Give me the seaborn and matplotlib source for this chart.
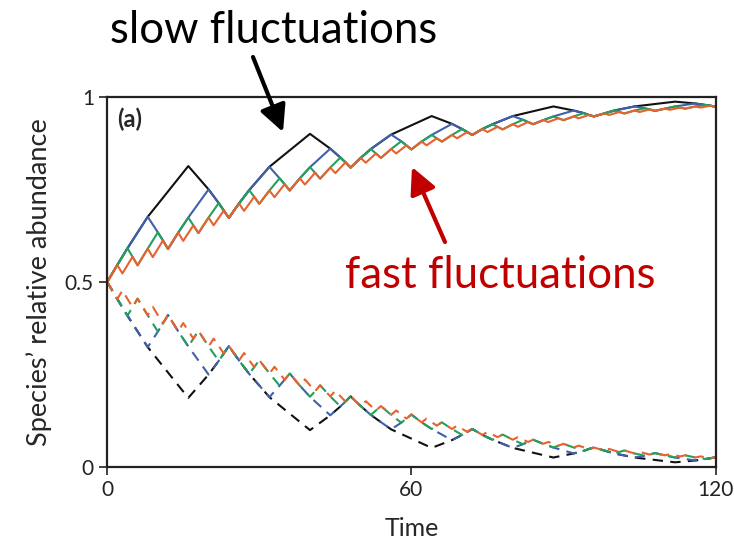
import matplotlib
matplotlib.use("Agg")
import matplotlib.pyplot as plt
import seaborn as sns

# environment switches: each line is favoured for 2/3 of its period, then disfavoured for 1/3
def switch_times(period, t_end=120):
    t = [0]
    for start in range(0, t_end, period):
        t += [start + period * 2 // 3, start + period]
    return t

periods = {"black": 24, "blue": 12, "green": 6, "orange": 3}

# species 1 (solid), values at each line's own switching times
black_up = [0.500, 0.813, 0.673, 0.900, 0.809, 0.948, 0.897, 0.974, 0.947, 0.987, 0.973]
blue_up = [0.500, 0.676, 0.589, 0.750, 0.673, 0.811, 0.747, 0.860, 0.809, 0.898,
           0.858, 0.927, 0.897, 0.948, 0.926, 0.963, 0.947, 0.974, 0.962, 0.982, 0.973]
green_up = [0.500, 0.591, 0.545, 0.634, 0.589, 0.674, 0.632, 0.713, 0.673, 0.748,
            0.711, 0.780, 0.747, 0.810, 0.779, 0.836, 0.809, 0.859, 0.835, 0.880,
            0.858, 0.897, 0.879, 0.913, 0.897, 0.926, 0.912, 0.938, 0.926, 0.947,
            0.937, 0.956, 0.947, 0.963, 0.955, 0.969, 0.962, 0.974, 0.968, 0.978, 0.973]
orange_up = [0.500, 0.546, 0.523, 0.568, 0.545, 0.590, 0.567, 0.612, 0.589, 0.633,
             0.611, 0.653, 0.632, 0.674, 0.653, 0.693, 0.673, 0.712, 0.692, 0.730,
             0.711, 0.747, 0.729, 0.764, 0.747, 0.780, 0.763, 0.795, 0.779, 0.809,
             0.794, 0.823, 0.809, 0.835, 0.822, 0.847, 0.835, 0.859, 0.847, 0.869,
             0.858, 0.879, 0.869, 0.888, 0.879, 0.897, 0.888, 0.905, 0.897, 0.913,
             0.905, 0.919, 0.912, 0.926, 0.919, 0.932, 0.926, 0.937, 0.932, 0.942,
             0.937, 0.947, 0.942, 0.951, 0.947, 0.955, 0.951, 0.959, 0.955, 0.963,
             0.959, 0.966, 0.962, 0.968, 0.965, 0.971, 0.968, 0.974, 0.971, 0.976, 0.973]

# species 2 (dashed)
black_down = [0.500, 0.187, 0.327, 0.100, 0.191, 0.052, 0.103, 0.026, 0.053, 0.013, 0.027]
blue_down = [0.500, 0.324, 0.411, 0.250, 0.327, 0.189, 0.253, 0.140, 0.191, 0.102,
             0.142, 0.073, 0.103, 0.052, 0.074, 0.037, 0.053, 0.026, 0.038, 0.018, 0.027]
green_down = [0.500, 0.409, 0.455, 0.366, 0.411, 0.326, 0.368, 0.287, 0.327, 0.252,
              0.289, 0.220, 0.253, 0.190, 0.221, 0.164, 0.191, 0.141, 0.165, 0.120,
              0.142, 0.103, 0.121, 0.087, 0.103, 0.074, 0.088, 0.062, 0.074, 0.053,
              0.063, 0.044, 0.053, 0.037, 0.045, 0.031, 0.038, 0.026, 0.032, 0.022, 0.027]
orange_down = [0.500, 0.454, 0.477, 0.432, 0.455, 0.410, 0.433, 0.388, 0.411, 0.367,
               0.389, 0.347, 0.368, 0.326, 0.347, 0.307, 0.327, 0.288, 0.308, 0.270,
               0.289, 0.253, 0.271, 0.236, 0.253, 0.220, 0.237, 0.205, 0.221, 0.191,
               0.206, 0.177, 0.191, 0.165, 0.178, 0.153, 0.165, 0.141, 0.153, 0.131,
               0.142, 0.121, 0.131, 0.112, 0.121, 0.103, 0.112, 0.095, 0.103, 0.087,
               0.095, 0.081, 0.088, 0.074, 0.081, 0.068, 0.074, 0.063, 0.068, 0.058,
               0.063, 0.053, 0.058, 0.049, 0.053, 0.045, 0.049, 0.041, 0.045, 0.037,
               0.041, 0.034, 0.038, 0.032, 0.035, 0.029, 0.032, 0.026, 0.029, 0.024, 0.027]

colors = {"black": "#111111", "blue": "#3f60ab", "green": "#21a159", "orange": "#e8612f"}
order = ["black", "blue", "green", "orange"]
up = {"black": black_up, "blue": blue_up, "green": green_up, "orange": orange_up}
down = {"black": black_down, "blue": blue_down, "green": green_down, "orange": orange_down}


def path(name, values):
    # a slower line shares its stretches with the faster ones: add the faster lines'
    # peaks where they leave it (rising) and join it again (falling)
    P = periods[name]
    pts = dict(zip(switch_times(P), values[name]))
    for other in order:
        p = periods[other]
        if p >= P:
            continue
        lookup = dict(zip(switch_times(p), values[other]))
        for s in range(0, 120, P):
            for a in (s + 2 * p // 3, s + P - p // 3):
                pts[a] = lookup[a]
    t = sorted(pts)
    return t, [pts[a] for a in t]


sns.set_style("ticks")
plt.rcParams["font.family"] = ["Lato", "DejaVu Sans"]

fig = plt.figure(figsize=(7.34, 5.47), dpi=100)
ax = fig.add_axes([0.146, 0.146, 0.829, 0.677])

for name in order:
    t, y = path(name, up)
    sns.lineplot(x=t, y=y, color=colors[name], lw=1.5, ax=ax)
    t, y = path(name, down)
    sns.lineplot(x=t, y=y, color=colors[name], lw=1.5, ax=ax,
                 linestyle=(0, (5, 3.5)))

ax.set_xlim(0, 120)
ax.set_ylim(0, 1)
ax.set_xticks([0, 60, 120])
ax.set_xticklabels(["0", "60", "120"])
ax.set_yticks([0, 0.5, 1])
ax.set_yticklabels(["0", "0.5", "1"])
ax.tick_params(direction="out", length=6, width=1.2, labelsize=15, colors="#222222")
for s in ax.spines.values():
    s.set_linewidth(1.6)
    s.set_color("#222222")

ax.set_xlabel("Time", fontsize=18, labelpad=12)
ax.set_ylabel("Species\u2019 relative abundance", fontsize=19.5, labelpad=9)
ax.text(0.016, 0.972, "(a)", transform=ax.transAxes, fontsize=17,
        fontweight="bold", va="top", ha="left")


def px(x, y):
    return (x / 734, 1 - y / 547)


fig.text(*px(110, 43), "slow fluctuations", fontsize=31.5, color="black",
         ha="left", va="baseline")
fig.text(*px(345, 288), "fast fluctuations", fontsize=31.5, color="#c00000",
         ha="left", va="baseline")

ax.annotate("", xy=px(283, 132), xycoords="figure fraction",
            xytext=px(253, 57), textcoords="figure fraction",
            arrowprops=dict(arrowstyle="-|>", lw=3, color="black",
                            mutation_scale=40, shrinkA=0, shrinkB=0))
ax.annotate("", xy=px(412, 167), xycoords="figure fraction",
            xytext=px(445, 242), textcoords="figure fraction",
            arrowprops=dict(arrowstyle="-|>", lw=3, color="#c00000",
                            mutation_scale=40, shrinkA=0, shrinkB=0))

plt.savefig("out.png", dpi=100)
